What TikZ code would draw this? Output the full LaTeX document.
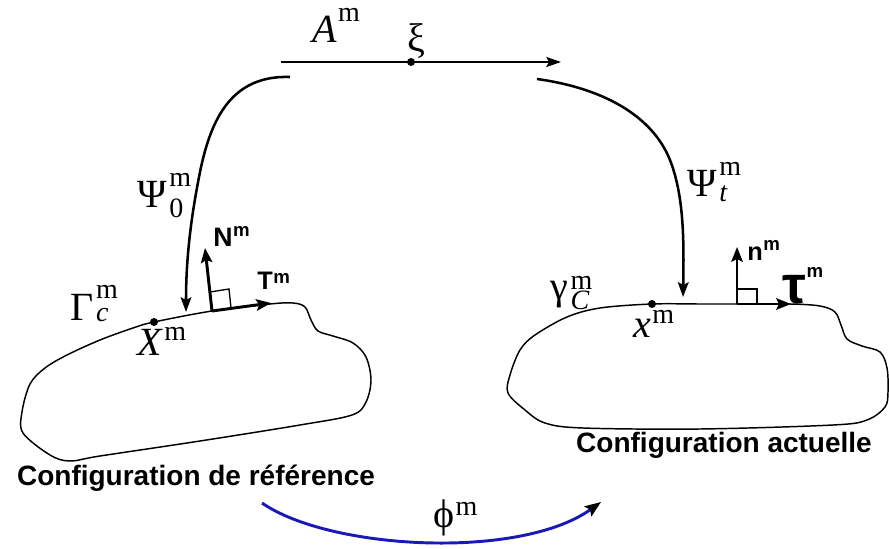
\documentclass[tikz,border=0pt]{standalone}
\usepackage{fontspec}
\setmainfont{Liberation Serif}
\newfontfamily\sfb{Liberation Sans}
\usetikzlibrary{arrows.meta}
\newcommand{\mainsz}{\fontsize{30}{30}\selectfont}
\newcommand{\supsz}{\fontsize{21}{21}\selectfont}
\newcommand{\SupSub}[5]{#1\kern2pt\makebox[0pt][l]{\raisebox{#4}{\supsz #2}}\raisebox{-#5}{\supsz #3}}
\newcommand{\SupOnly}[3]{#1\kern1pt\raisebox{#3}{\supsz #2}}
\newcommand{\SfSup}[5]{{\fontsize{#4}{#4}\selectfont #1}\kern0.5pt\raisebox{#3}{\fontsize{#5}{#5}\selectfont #2}}
\tikzset{
  lbl/.style={inner sep=0pt, anchor=base west, font=\mainsz},
  sflbl/.style={inner sep=0pt, anchor=base west, font=\sfb\bfseries},
  maparrow/.style={line width=1.9pt, -{Stealth[length=11pt,width=8pt,inset=2pt]}},
  toparrow/.style={line width=1.4pt, -{Stealth[length=11pt,width=7.5pt,inset=2pt]}},
  vecarrow/.style={line width=2.2pt, -{Stealth[length=11pt,width=8.5pt,inset=2pt]}},
  contour/.style={line width=1.1pt},
  sqmark/.style={line width=1pt},
  dotpt/.style={circle, fill=black, inner sep=0pt, minimum size=6pt},
  phiarrow/.style={line width=2.2pt, draw={rgb,255:red,25;green,25;blue,185}, -{Stealth[length=12pt,width=9pt,inset=2pt,color=black]}},
  biglbl/.style={inner sep=0pt, anchor=base, font=\sfb\bfseries\fontsize{21}{21}\selectfont}
}
\begin{document}
\begin{tikzpicture}[x=0.75pt,y=-0.75pt]
\useasboundingbox (0,0) rectangle (889,549);

% top parameter line
\coordinate (As) at (281,62);
\coordinate (Ae) at (561,62);
\draw[toparrow] (As) -- (Ae);
\node[dotpt] (xi) at (411,62) {};
\node[inner sep=0pt, font=\mainsz] (xilbl) at (416,41) {ξ};
\node[lbl] (Alab) at (312,43) {\SupOnly{\textit{A}}{m}{15.75pt}};

% mappings Psi
\coordinate (L0) at (290,77);
\coordinate (L1) at (186,312);
\draw[maparrow] (L0) .. controls (232,75) and (211,118) .. (200,172) .. controls (190,222) and (186,262) .. (L1);
\node[lbl] (Psi0) at (137,208) {\SupSub{Ψ}{m}{0}{15.75pt}{7.5pt}};

\coordinate (R0) at (537,79);
\coordinate (R1) at (683,297);
\draw[maparrow] (R0) .. controls (602,88) and (652,115) .. (670,160) .. controls (684,196) and (684,240) .. (R1);
\node[lbl] (Psit) at (687,197) {\SupSub{Ψ}{m}{\textit{t}}{16.5pt}{3.75pt}};

% left body
\draw[contour] plot[smooth cycle, tension=0.55] coordinates {
 (154,322) (212,311) (270,304) (293,303) (305,307) (311,320) (318,331) (333,336)
 (353,343) (366,357) (371,380) (366,402) (352,415) (300,425) (200,441) (100,456)
 (70,461) (50,455) (23,433) (22,412) (30,384) (45,368) (67,355) (100,340) (133,328)};
\node[dotpt] (Xm) at (154,322) {};
\node[lbl] (Xlab) at (137,355) {\SupOnly{\textit{X}}{m}{11.25pt}};
\node[lbl] (Gam) at (70,320) {\SupSub{Γ}{m}{\textit{c}}{16.5pt}{1.5pt}};
\coordinate (P) at (212,311);
\coordinate (Ttip) at (271,303);
\coordinate (Ntip) at (205,248);
\draw[vecarrow] (P) -- (Ttip);
\draw[vecarrow] (P) -- (Ntip);
\draw[sqmark] (210,292) -- (229,289) -- (231,308);
\node[sflbl] (Nlab) at (213,247) {\SfSup{N}{m}{7.5pt}{20}{14}};
\node[sflbl] (Tlab) at (257,289) {\SfSup{T}{m}{4.5pt}{19}{14}};

% right body
\draw[contour] plot[smooth cycle, tension=0.55] coordinates {
 (652,304) (700,304) (737,304) (790,304) (820,306) (835,312) (841,325) (847,339)
 (862,346) (880,352) (887,368) (888,392) (885,407) (867,420) (833,425) (700,429)
 (583,428) (545,423) (525,410) (508,393) (510,375) (520,350) (535,335) (567,317) (600,308)};
\node[dotpt] (xm) at (652,304) {};
\node[lbl] (xlab) at (633,337) {\SupOnly{\textit{x}}{m}{10.5pt}};
\node[lbl] (gam) at (550,299) {\SupSub{γ}{m}{\textit{C}}{7pt}{7.5pt}};
\coordinate (Q) at (737,304);
\coordinate (ttip) at (791,304);
\coordinate (ntip) at (737,247);
\draw[vecarrow] (Q) -- (ttip);
\draw[vecarrow] (Q) -- (ntip);
\draw[sqmark] (737,289) -- (757,289) -- (757,304);
\node[sflbl] (nlab) at (747,260) {\SfSup{n}{m}{7.5pt}{19}{14}};
\node[sflbl] (taulab) at (782,303) {\SfSup{τ}{m}{19.5pt}{40}{14}};

% captions
\node[biglbl] (ref) at (196,485) {Configuration de référence};
\node[biglbl] (act) at (724,452) {Configuration actuelle};

% phi
\coordinate (F0) at (262,503);
\coordinate (F1) at (601,502);
\draw[phiarrow] (F0) .. controls (330,550) and (520,560) .. (F1);
\node[lbl] (phi) at (433,527) {\SupOnly{ϕ}{m}{9pt}};
\end{tikzpicture}
\end{document}
